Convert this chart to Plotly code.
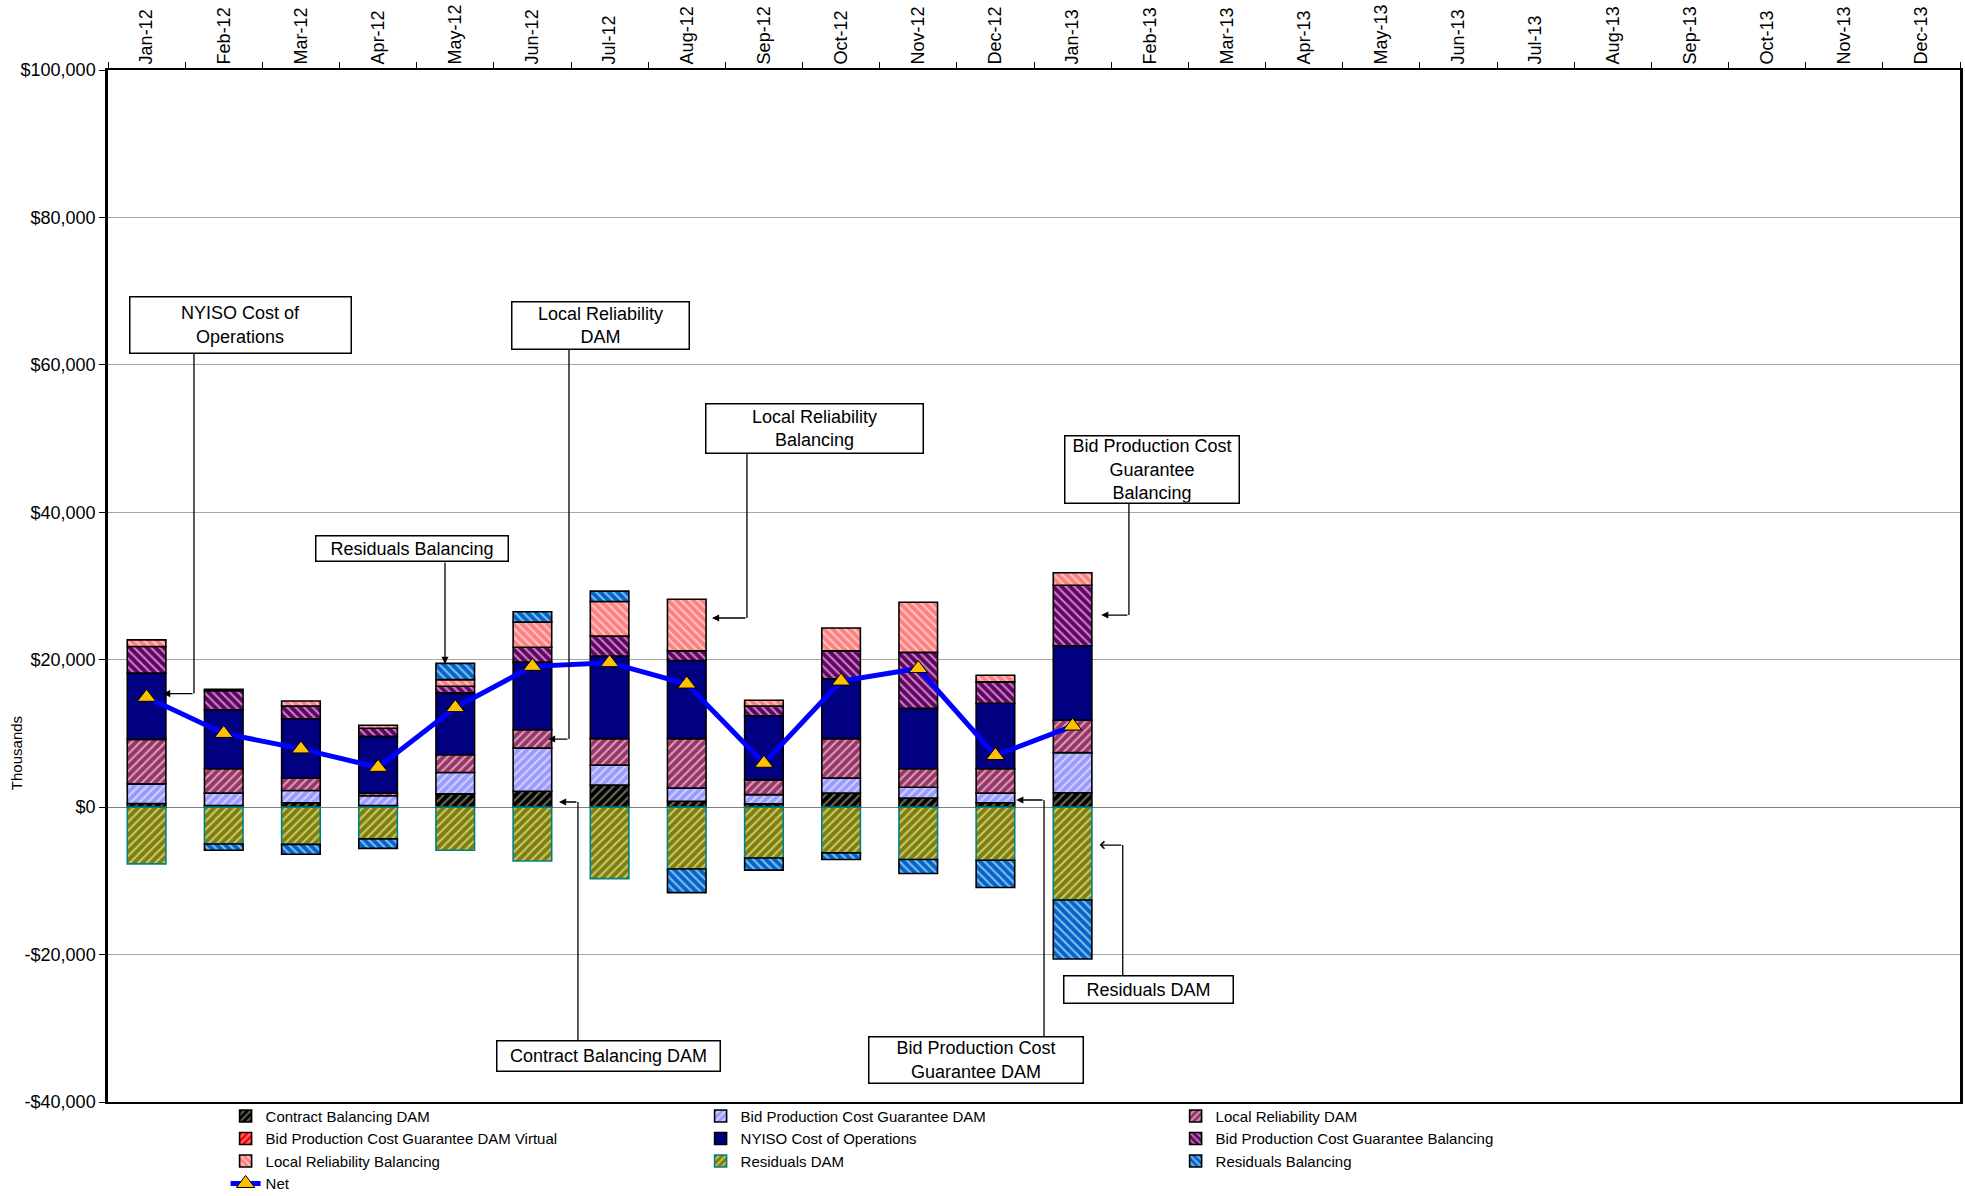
import plotly.graph_objects as go

# months on the category axis (Jan-12 .. Dec-13), data only through Jan-13
months = ['Jan-12', 'Feb-12', 'Mar-12', 'Apr-12', 'May-12', 'Jun-12', 'Jul-12', 'Aug-12',
          'Sep-12', 'Oct-12', 'Nov-12', 'Dec-12', 'Jan-13', 'Feb-13', 'Mar-13', 'Apr-13',
          'May-13', 'Jun-13', 'Jul-13', 'Aug-13', 'Sep-13', 'Oct-13', 'Nov-13', 'Dec-13']
data_months = months[:13]

# values in $ thousands
contract_bal_dam = [500, 200, 600, 200, 1800, 2150, 3000, 800, 450, 1900, 1250, 600, 1950]
bpcg_dam = [2650, 1700, 1650, 1350, 2900, 5850, 2700, 1800, 1250, 2050, 1450, 1300, 5450]
local_rel_dam = [6050, 3300, 1700, 350, 2400, 2500, 3600, 6700, 2000, 5350, 2500, 3300, 4400]
bpcg_dam_virtual = [None] * 13
nyiso_cost_ops = [9000, 8000, 8050, 7700, 8400, 9200, 11200, 10600, 8700, 8100, 8200, 8900, 10100]
bpcg_bal = [3600, 2600, 1700, 1100, 900, 2000, 2700, 1300, 1300, 3800, 7600, 2900, 8200]
local_rel_bal = [900, 200, 700, 400, 900, 3400, 4700, 7000, 800, 3100, 6800, 900, 1700]
residuals_dam = [-7700, -5000, -5050, -4300, -5850, -7300, -9700, -8400, -6900, -6200, -7100, -7200, -12600]
residuals_bal = [0, -850, -1350, -1300, 2200, 1400, 1400, -3200, -1650, -900, -1900, -3700, -8000]
net = [14900, 10000, 7900, 5400, 13500, 19100, 19600, 16700, 5950, 17100, 18800, 7000, 11000]

y_tick_vals = [-40000, -20000, 0, 20000, 40000, 60000, 80000, 100000]
y_tick_text = ['-$40,000', '-$20,000', '$0', '$20,000', '$40,000', '$60,000', '$80,000', '$100,000']

FONT = 'Liberation Sans, Arial, sans-serif'

series = [
    # name, values, bg colour, stripe colour, stripe shape, outline
    ('Contract Balancing DAM', contract_bal_dam, '#000000', '#C8C8A0', '/', 'black'),
    ('Bid Production Cost Guarantee DAM', bpcg_dam, '#9999FF', '#FFFFFF', '/', 'black'),
    ('Local Reliability DAM', local_rel_dam, '#993366', '#FFFFFF', '/', 'black'),
    ('Bid Production Cost Guarantee DAM Virtual', bpcg_dam_virtual, '#FF0000', '#FFFFFF', '/', 'black'),
    ('NYISO Cost of Operations', nyiso_cost_ops, '#000080', None, '', 'black'),
    ('Bid Production Cost Guarantee Balancing', bpcg_bal, '#660066', '#FFFFFF', '\\', 'black'),
    ('Local Reliability Balancing', local_rel_bal, '#FF8080', '#FFFFFF', '\\', 'black'),
    ('Residuals DAM', residuals_dam, '#808000', '#FFFFFF', '/', '#008080'),
    ('Residuals Balancing', residuals_bal, '#0066CC', '#FFFFFF', '\\', 'black'),
]

fig = go.Figure()

for name, vals, bg, fg, shape, edge in series:
    if shape:
        pattern = dict(shape=shape, bgcolor=bg, fgcolor=fg, fgopacity=0.55, size=6, solidity=0.35)
    else:
        pattern = dict(shape='')
    fig.add_trace(go.Bar(
        x=data_months, y=vals, name=name,
        marker=dict(color=bg, pattern=pattern, line=dict(color=edge, width=1.6)),
    ))

fig.add_trace(go.Scatter(
    x=data_months, y=net, name='Net', mode='lines+markers',
    line=dict(color='#0000FF', width=5),
    marker=dict(symbol='triangle-up', size=16, color='#FFC000', line=dict(color='black', width=1)),
))

# callout boxes: (text, x, y, width, height)
boxes = [
    ('NYISO Cost of<br>Operations', 1.22, 65400, 220, 55),
    ('Local Reliability<br>DAM', 5.88, 65400, 176, 46),
    ('Residuals Balancing', 3.44, 35150, 191, 24),
    ('Local Reliability<br>Balancing', 8.66, 51300, 216, 48),
    ('Bid Production Cost<br>Guarantee<br>Balancing', 13.03, 45870, 173, 66),
    ('Contract Balancing DAM', 5.99, -33760, 222, 29),
    ('Bid Production Cost<br>Guarantee DAM', 10.75, -34300, 213, 45),
    ('Residuals DAM', 12.99, -24670, 168, 26),
]
for text, bx, by, w, h in boxes:
    fig.add_annotation(x=bx, y=by, text=text, showarrow=False, width=w, height=h,
                       bgcolor='white', bordercolor='black', borderwidth=1.5, borderpad=0,
                       font=dict(family=FONT, size=18, color='black'))

# connector lines: (x, y from box, y at bend)
connectors = [
    (0.614, 61470, 15400),
    (5.474, 62150, 9240),
    (7.78, 47910, 25660),
    (12.73, 41260, 26060),
    (5.59, -31590, 700),
    (11.63, -31180, 970),
    (12.65, -22770, -5140),
]
for cx, y0, y1 in connectors:
    fig.add_shape(type='line', x0=cx, x1=cx, y0=y0, y1=y1, xref='x', yref='y',
                  line=dict(color='black', width=1.3))

# arrow heads: (tip x, tip y, tail x, tail y, head style)
arrows = [
    (0.213, 15400, 0.614, 15400, 2),
    (5.202, 9240, 5.474, 9240, 2),
    (3.867, 19420, 3.867, 33390, 2),
    (7.327, 25660, 7.78, 25660, 2),
    (12.37, 26060, 12.73, 26060, 2),
    (5.344, 700, 5.59, 700, 2),
    (11.27, 970, 11.63, 970, 2),
    (12.35, -5140, 12.65, -5140, 4),
]
for tx, ty, ax, ay, head in arrows:
    fig.add_annotation(x=tx, y=ty, ax=ax, ay=ay, xref='x', yref='y', axref='x', ayref='y',
                       text='', showarrow=True, arrowhead=head, arrowsize=1.1,
                       arrowwidth=1.3, arrowcolor='black')

fig.add_annotation(x=-0.0497, y=0.338, xref='paper', yref='paper', text='Thousands',
                   xanchor='center', yanchor='middle',
                   textangle=-90, showarrow=False, font=dict(family=FONT, size=15, color='black'))

fig.update_layout(
    width=1965, height=1196,
    margin=dict(l=108, r=5, t=70, b=94, pad=0, autoexpand=False),
    barmode='relative', bargap=0.5,
    plot_bgcolor='white', paper_bgcolor='white',
    font=dict(family=FONT, size=18, color='black'),
    showlegend=True,
    legend=dict(orientation='h', x=0.0635, xanchor='left',
                yref='container', y=0.0805, yanchor='top',
                entrywidth=430, entrywidthmode='pixels', itemwidth=30,
                font=dict(family=FONT, size=15), tracegroupgap=0,
                bgcolor='rgba(0,0,0,0)'),
    xaxis=dict(type='category', categoryorder='array', categoryarray=months,
               range=[-0.5, 23.5], side='top', tickangle=-90,
               ticks='outside', tickson='boundaries', ticklen=6, tickcolor='black',
               showline=True, linecolor='black', linewidth=2, mirror=True,
               showgrid=False, tickfont=dict(size=18)),
    yaxis=dict(range=[-40000, 100000], tickvals=y_tick_vals, ticktext=y_tick_text,
               ticks='outside', ticklen=6, tickcolor='black',
               showline=True, linecolor='black', linewidth=2.5, mirror=True,
               showgrid=True, gridcolor='#A6A6A6', gridwidth=1.3,
               zeroline=True, zerolinecolor='#808080', zerolinewidth=1.3,
               tickfont=dict(size=18)),
)

fig.write_html("out.html", config={'displayModeBar': False},
               post_script="document.body.style.margin='0';")
